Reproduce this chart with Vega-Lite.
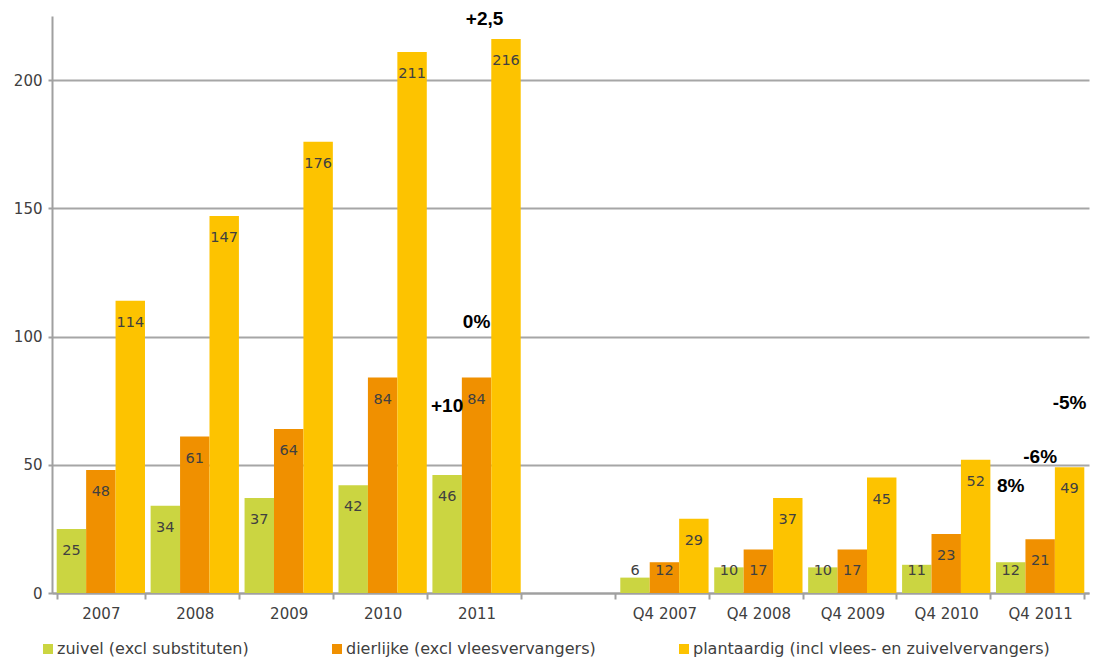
{
  "$schema": "https://vega.github.io/schema/vega-lite/v6.json",
  "width": 1037,
  "height": 577,
  "autosize": {"type": "none"},
  "padding": {"left": 52, "top": 16, "right": 5, "bottom": 66},
  "background": "white",
  "config": {"view": {"stroke": null}, "font": "DejaVu Sans"},
  "datasets": {
    "main": [
      {"cat": "2007", "series": "zuivel (excl substituten)", "value": 25},
      {"cat": "2007", "series": "dierlijke (excl vleesvervangers)", "value": 48},
      {"cat": "2007", "series": "plantaardig (incl vlees- en zuivelvervangers)", "value": 114},
      {"cat": "2008", "series": "zuivel (excl substituten)", "value": 34},
      {"cat": "2008", "series": "dierlijke (excl vleesvervangers)", "value": 61},
      {"cat": "2008", "series": "plantaardig (incl vlees- en zuivelvervangers)", "value": 147},
      {"cat": "2009", "series": "zuivel (excl substituten)", "value": 37},
      {"cat": "2009", "series": "dierlijke (excl vleesvervangers)", "value": 64},
      {"cat": "2009", "series": "plantaardig (incl vlees- en zuivelvervangers)", "value": 176},
      {"cat": "2010", "series": "zuivel (excl substituten)", "value": 42},
      {"cat": "2010", "series": "dierlijke (excl vleesvervangers)", "value": 84},
      {"cat": "2010", "series": "plantaardig (incl vlees- en zuivelvervangers)", "value": 211},
      {"cat": "2011", "series": "zuivel (excl substituten)", "value": 46},
      {"cat": "2011", "series": "dierlijke (excl vleesvervangers)", "value": 84},
      {"cat": "2011", "series": "plantaardig (incl vlees- en zuivelvervangers)", "value": 216},
      {"cat": "Q4 2007", "series": "zuivel (excl substituten)", "value": 6},
      {"cat": "Q4 2007", "series": "dierlijke (excl vleesvervangers)", "value": 12},
      {"cat": "Q4 2007", "series": "plantaardig (incl vlees- en zuivelvervangers)", "value": 29},
      {"cat": "Q4 2008", "series": "zuivel (excl substituten)", "value": 10},
      {"cat": "Q4 2008", "series": "dierlijke (excl vleesvervangers)", "value": 17},
      {"cat": "Q4 2008", "series": "plantaardig (incl vlees- en zuivelvervangers)", "value": 37},
      {"cat": "Q4 2009", "series": "zuivel (excl substituten)", "value": 10},
      {"cat": "Q4 2009", "series": "dierlijke (excl vleesvervangers)", "value": 17},
      {"cat": "Q4 2009", "series": "plantaardig (incl vlees- en zuivelvervangers)", "value": 45},
      {"cat": "Q4 2010", "series": "zuivel (excl substituten)", "value": 11},
      {"cat": "Q4 2010", "series": "dierlijke (excl vleesvervangers)", "value": 23},
      {"cat": "Q4 2010", "series": "plantaardig (incl vlees- en zuivelvervangers)", "value": 52},
      {"cat": "Q4 2011", "series": "zuivel (excl substituten)", "value": 12},
      {"cat": "Q4 2011", "series": "dierlijke (excl vleesvervangers)", "value": 21},
      {"cat": "Q4 2011", "series": "plantaardig (incl vlees- en zuivelvervangers)", "value": 49}
    ],
    "notes": [
      {"cat": "2011", "series": "dierlijke (excl vleesvervangers)", "value": 105.7, "note": "0%"},
      {"cat": "2011", "series": "zuivel (excl substituten)", "value": 72.9, "note": "+10"},
      {"cat": "Q4 2011", "series": "plantaardig (incl vlees- en zuivelvervangers)", "value": 74.1, "note": "-5%"},
      {"cat": "Q4 2011", "series": "dierlijke (excl vleesvervangers)", "value": 53, "note": "-6%"},
      {"cat": "Q4 2011", "series": "zuivel (excl substituten)", "value": 41.7, "note": "8%"}
    ],
    "topnote": [
      {"cat": "2011", "series": "dierlijke (excl vleesvervangers)", "value": 224, "note": "+2,5"}
    ]
  },
  "layer": [
    {
      "data": {"name": "main"},
      "mark": {"type": "bar"},
      "encoding": {
        "x": {
          "field": "cat", "type": "nominal",
          "scale": {"domain": ["2007", "2008", "2009", "2010", "2011", " ", "Q4 2007", "Q4 2008", "Q4 2009", "Q4 2010", "Q4 2011"], "paddingInner": 0.06, "paddingOuter": 0.05},
          "axis": {"title": null, "labelAngle": 0, "labelFontSize": 15, "labelColor": "#404040", "labelPadding": 7, "tickBand": "extent", "tickSize": 6, "tickColor": "#a0a0a0", "tickWidth": 2, "domainColor": "#a0a0a0", "domainWidth": 2}
        },
        "xOffset": {
          "field": "series", "type": "nominal",
          "scale": {"domain": ["zuivel (excl substituten)", "dierlijke (excl vleesvervangers)", "plantaardig (incl vlees- en zuivelvervangers)"], "paddingInner": 0, "paddingOuter": 0}
        },
        "y": {
          "field": "value", "type": "quantitative",
          "scale": {"domain": [0, 225], "nice": false},
          "axis": {"title": null, "values": [0, 50, 100, 150, 200], "labelFontSize": 15, "labelColor": "#404040", "labelPadding": 6, "tickSize": 4, "tickColor": "#a0a0a0", "tickWidth": 2, "domainColor": "#a0a0a0", "domainWidth": 2, "gridColor": "#a6a6a6", "gridWidth": 2}
        },
        "color": {
          "field": "series", "type": "nominal",
          "scale": {"domain": ["zuivel (excl substituten)", "dierlijke (excl vleesvervangers)", "plantaardig (incl vlees- en zuivelvervangers)"], "range": ["#cbd541", "#f09000", "#fdc300"]},
          "legend": {"orient": "none", "legendX": -12, "legendY": 625, "direction": "horizontal", "title": null, "symbolType": "square", "symbolSize": 100, "symbolStrokeWidth": 0, "labelFontSize": 16, "labelColor": "#404040", "labelOffset": 1, "columnPadding": 80, "labelLimit": 500}
        }
      }
    },
    {
      "data": {"name": "main"},
      "mark": {"type": "text", "baseline": "middle", "align": "center", "dy": 22, "fontSize": 14.5, "color": "#404040"},
      "encoding": {
        "x": {"field": "cat", "type": "nominal"},
        "xOffset": {"field": "series", "type": "nominal"},
        "y": {"field": "value", "type": "quantitative", "scale": {"domain": [17, 225], "range": [533.4, 0], "clamp": true, "nice": false, "zero": false}, "axis": null},
        "text": {"field": "value", "type": "quantitative"}
      }
    },
    {
      "data": {"name": "notes"},
      "mark": {"type": "text", "baseline": "middle", "align": "center", "fontSize": 19, "fontWeight": "bold", "font": "Liberation Sans", "color": "#000000"},
      "encoding": {
        "x": {"field": "cat", "type": "nominal"},
        "xOffset": {"field": "series", "type": "nominal"},
        "y": {"field": "value", "type": "quantitative", "scale": {"domain": [0, 225], "nice": false}, "axis": null},
        "text": {"field": "note", "type": "nominal"}
      }
    },
    {
      "data": {"name": "topnote"},
      "mark": {"type": "text", "baseline": "middle", "align": "center", "fontSize": 19, "fontWeight": "bold", "font": "Liberation Sans", "color": "#000000", "dx": 8},
      "encoding": {
        "x": {"field": "cat", "type": "nominal"},
        "xOffset": {"field": "series", "type": "nominal"},
        "y": {"field": "value", "type": "quantitative", "scale": {"domain": [0, 225], "nice": false}, "axis": null},
        "text": {"field": "note", "type": "nominal"}
      }
    }
  ],
  "resolve": {"scale": {"y": "independent"}}
}
